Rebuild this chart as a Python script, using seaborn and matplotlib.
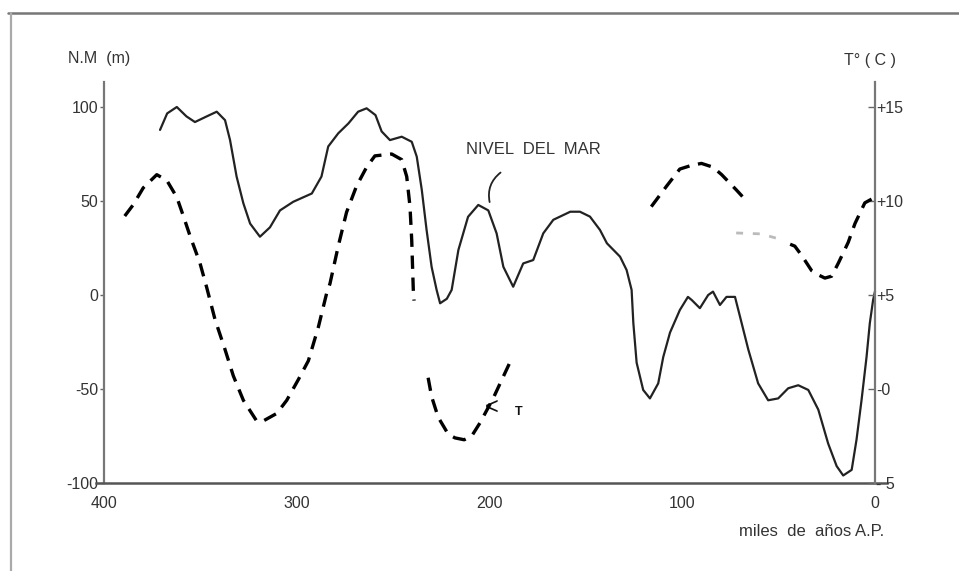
import numpy as np
import pandas as pd
import matplotlib
matplotlib.use("Agg")
import matplotlib.pyplot as plt
from matplotlib.lines import Line2D
import seaborn as sns

# ---- data ----
# Sea level (m), thousands of years BP
sl_age = [370.7, 367, 362, 357, 352.6, 346.5, 341.3, 337, 334.4, 331, 327.5, 324, 318.9, 313.7,
          308.5, 301.6, 292, 287, 283.5, 278.3, 273, 268, 263.6, 259, 255.8, 251.5, 245.4, 240.2,
          237.6, 235, 232.5, 229.9, 227.3, 225.5, 222, 219.5, 216, 211, 205.7, 200.5, 196.2, 192.7,
          187.6, 182.4, 177.2, 172, 166.8, 158, 153, 147.8, 142.6, 139, 132.2, 128.8, 126.2, 125.3,
          123.6, 120.2, 116.7, 112.4, 109.8, 106.3, 101.2, 97, 95, 90.8, 86.5, 84, 80.4, 77, 72.6,
          70, 65.7, 60.6, 55.4, 50.2, 45, 39.8, 34.6, 29.4, 24.3, 19.9, 16.5, 12.1, 9.6, 7, 4.4,
          2.7, 1, 0]
sl_level = [87.8, 96.6, 100, 95, 92, 95, 97.5, 93, 82.4, 63, 48.8, 38, 31, 36,
            45, 49.6, 54, 63, 79, 86, 91.3, 97.5, 99.3, 95.7, 87, 82.4, 84.2, 81.5,
            73.6, 56, 34.6, 15, 2.7, -4.4, -2, 2.7, 24, 41.6, 47.9, 45, 32.8, 15,
            4.4, 16.8, 18.6, 32.8, 40, 44.3, 44.3, 41.7, 34.6, 27.5, 20.4, 13.3, 2.7, -15,
            -36, -50.5, -55, -47, -33, -20, -8, -1, -2.7, -7, 0, 1.8, -5.3, -1, -1,
            -11.5, -29, -47, -56, -55, -49.6, -48, -50.5, -61, -79, -91, -96, -93, -77, -56, -33,
            -15, -2.7, 2]

# Temperature (deg C), dashed segments
t1_age = [389, 384.6, 379.4, 372.4, 367.2, 362, 358.6, 355, 350, 346.5, 342.2, 337, 332.7, 327.5,
          320.6, 317.2, 310.2, 305, 299, 293.8, 288.6, 284.3, 282.6, 278.3, 274, 268.8, 263.6,
          259.3, 250.6, 245.4, 242.8, 241.1, 240.2, 239.4, 239]
t1_temp = [9.2, 9.8, 10.7, 11.4, 11.1, 10.2, 9.2, 8.1, 6.7, 5.4, 3.7, 2.1, 0.7, -0.6,
           -1.7, -1.7, -1.3, -0.6, 0.5, 1.5, 3.3, 5.1, 5.6, 7.6, 9.4, 10.8, 11.8,
           12.4, 12.5, 12.2, 11.3, 9.7, 7.9, 5.3, 4.7]
t2_age = [231.7, 229.9, 226.5, 221.3, 217.8, 213, 209.1, 204.8, 198, 193, 188]
t2_temp = [0.6, -0.4, -1.5, -2.4, -2.6, -2.7, -2.5, -1.8, -0.5, 0.6, 1.7]
t3_age = [116, 108, 101.2, 95, 90, 84, 79.5, 72, 65.7]
t3_temp = [9.7, 10.8, 11.7, 11.9, 12.0, 11.8, 11.4, 10.6, 9.9]
t4a_age = [72, 59, 47]
t4a_temp = [8.3, 8.25, 7.9]
t4_age = [44, 41.6, 38, 32.9, 29, 26, 22.5, 19, 13.9, 10.4, 5.3, 1.8]
t4_temp = [7.7, 7.6, 7.1, 6.3, 6.05, 5.9, 6.0, 6.7, 7.8, 8.8, 9.9, 10.1]

left_ticks = [100, 50, 0, -50, -100]
left_labels = ["100", "50", "0", "-50", "-100"]
right_ticks = [15, 10, 5, 0, -5]
right_labels = ["+15", "+10", "+5", "-0", "- 5"]
x_ticks = [400, 300, 200, 100, 0]
x_labels = ["400", "300", "200", "100", "0"]

# ---- figure ----
sns.set_theme(style="white")
plt.rcParams["font.family"] = ["Liberation Sans", "DejaVu Sans"]
TXT = "#333333"

fig = plt.figure(figsize=(9.59, 5.71), dpi=100)
ax = fig.add_axes([0.0999, 0.1541, 0.9245 - 0.0999, 0.8564 - 0.1541])
ax2 = ax.twinx()

sl = pd.DataFrame({"age": sl_age, "level": sl_level})
sns.lineplot(data=sl, x="age", y="level", ax=ax, color="#222222", linewidth=1.6,
             sort=False, estimator=None)

dash = (0, (4.0, 2.6))
for a, t in [(t1_age, t1_temp), (t2_age, t2_temp), (t3_age, t3_temp), (t4_age, t4_temp)]:
    d = pd.DataFrame({"age": a, "temp": t})
    sns.lineplot(data=d, x="age", y="temp", ax=ax2, color="black", linewidth=2.4,
                 linestyle=dash, sort=False, estimator=None)
d = pd.DataFrame({"age": t4a_age, "temp": t4a_temp})
sns.lineplot(data=d, x="age", y="temp", ax=ax2, color="#bbbbbb", linewidth=2.0,
             linestyle=(0, (2.5, 3.5)), sort=False, estimator=None)

ax.set_xlim(404, -6)
ax.set_ylim(-100, 113.3)
ax2.set_ylim(-5, 16.33)

for a_ in (ax, ax2):
    a_.set_xlabel("")
    a_.set_ylabel("")
    a_.spines["top"].set_visible(False)
    a_.grid(False)
    a_.set_facecolor("none")

ax.spines["right"].set_visible(False)
ax.spines["left"].set_position(("data", 400))
ax.spines["left"].set_color("#777777")
ax.spines["left"].set_linewidth(1.6)
ax.spines["bottom"].set_color("#555555")
ax.spines["bottom"].set_linewidth(1.8)

ax2.spines["left"].set_visible(False)
ax2.spines["bottom"].set_visible(False)
ax2.spines["right"].set_position(("data", 0))
ax2.spines["right"].set_color("#777777")
ax2.spines["right"].set_linewidth(1.6)

ax.set_yticks(left_ticks)
ax.set_yticklabels(left_labels)
ax.set_xticks(x_ticks)
ax.set_xticklabels(x_labels)
ax2.set_yticks(right_ticks)
ax2.set_yticklabels(right_labels)

ax.tick_params(axis="y", direction="out", length=3, width=1, colors="#666666",
               labelcolor=TXT, labelsize=11.5, pad=1)
ax.tick_params(axis="x", direction="in", length=3, width=1, colors="#666666",
               labelcolor=TXT, labelsize=11.5, pad=9)
ax2.tick_params(axis="y", direction="in", length=5, width=1, colors="#666666",
                labelcolor=TXT, labelsize=11.5, pad=1)

# axis titles
fig.text(99 / 959, 1 - 58 / 571, "N.M  (m)", ha="center", va="center", fontsize=11.5, color=TXT)
fig.text(870 / 959, 1 - 60 / 571, "T° ( C )", ha="center", va="center", fontsize=11.5, color=TXT)
fig.text(812 / 959, 1 - 532 / 571, "miles  de  años A.P.", ha="center", va="center",
         fontsize=12, color=TXT)

# annotations
ax.text(533 / 959, 1 - 150 / 571, "NIVEL  DEL  MAR", transform=fig.transFigure,
        ha="center", va="center", fontsize=12, color=TXT)
ax.annotate("", xy=(199.5, 48), xytext=(193, 66),
            arrowprops=dict(arrowstyle="-", color="#222222", lw=1.3,
                            connectionstyle="arc3,rad=0.35"))
ax.text(198.5, -60, "<", ha="center", va="center", fontsize=17, color="#111111")
ax.text(184.5, -62, "T", ha="center", va="center", fontsize=9, color="#111111",
        fontweight="bold")

# scanned-page frame
fig.add_artist(Line2D([8 / 959, 1.0], [1 - 12.5 / 571, 1 - 12.5 / 571],
                      transform=fig.transFigure, color="#777777", lw=1.8))
fig.add_artist(Line2D([11 / 959, 11 / 959], [1 - 12.5 / 571, 0.0],
                      transform=fig.transFigure, color="#aaaaaa", lw=1.6))

fig.savefig("out.png", dpi=100, facecolor="white")
